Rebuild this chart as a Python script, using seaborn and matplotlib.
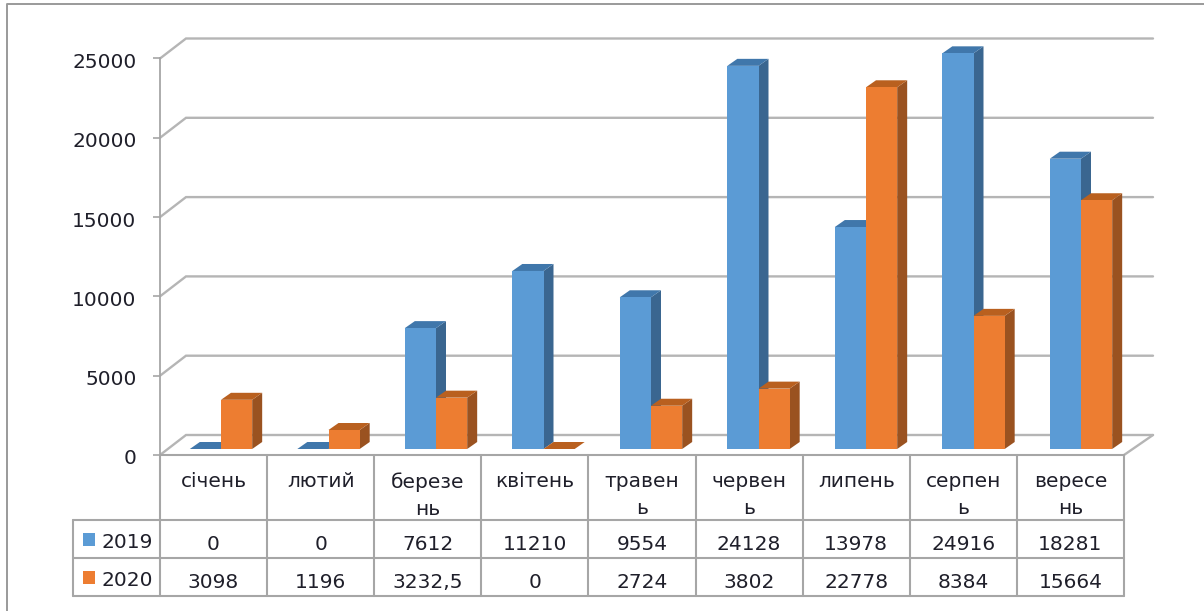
import numpy as np
import pandas as pd
import seaborn as sns
import matplotlib
matplotlib.use("Agg")
import matplotlib.pyplot as plt
from matplotlib.patches import Polygon, Rectangle
from matplotlib.transforms import ScaledTranslation

months = ["січень", "лютий", "березень", "квітень", "травень", "червень", "липень", "серпень", "вересень"]
month_labels = ["січень", "лютий", "березе\nнь", "квітень", "травен\nь", "червен\nь", "липень", "серпен\nь", "вересе\nнь"]
values_2019 = [0, 0, 7612, 11210, 9554, 24128, 13978, 24916, 18281]
values_2020 = [3098, 1196, 3232.5, 0, 2724, 3802, 22778, 8384, 15664]
series_names = ["2019", "2020"]
y_ticks = [0, 5000, 10000, 15000, 20000, 25000]
front_colors = ["#5B9BD5", "#ED7D31"]
side_colors = ["#3A6690", "#9A5220"]
top_colors = ["#4077AB", "#B9601F"]

W, H = 1204, 611
DPI = 100
FONT = "DejaVu Sans"
TEXT = "#1f1f2a"
GRID = "#b5b5b5"
TABLE = "#a6a6a6"

df = pd.DataFrame({
    "month": months * 2,
    "value": values_2019 + values_2020,
    "year": [series_names[0]] * len(months) + [series_names[1]] * len(months),
})

sns.set_theme(style="white")
plt.rcParams["font.family"] = [FONT]
fig = plt.figure(figsize=(W / DPI, H / DPI), dpi=DPI, facecolor="white")


def axes_px(x0, x1, y_top, y_bottom):
    return [x0 / W, 1 - y_bottom / H, (x1 - x0) / W, (y_bottom - y_top) / H]


# pixel-space layer: frame, back wall, table
frame = fig.add_axes([0, 0, 1, 1], zorder=1)
frame.set_xlim(0, W)
frame.set_ylim(H, 0)
frame.axis("off")

# front plane: the value axis
X0, X1 = 160, 1124
Y0, Y25 = 455, 58.5
FS = 14.5
axis_ax = fig.add_axes(axes_px(X0, X1, Y25, Y0), zorder=2, facecolor="none")
axis_ax.set_ylim(0, 25000)
axis_ax.set_xticks([])
axis_ax.set_yticks(y_ticks)
axis_ax.tick_params(axis="y", length=5, width=1.2, color=TABLE, pad=12, left=True,
                    labelsize=FS, labelcolor=TEXT)
for lab in axis_ax.get_yticklabels():
    lab.set_transform(lab.get_transform() + ScaledTranslation(0, -2 / DPI, fig.dpi_scale_trans))
for s in ("top", "right", "bottom"):
    axis_ax.spines[s].set_visible(False)
axis_ax.spines["left"].set_color(TABLE)
axis_ax.spines["left"].set_linewidth(1.3)

# bars: plane shifted into the depth of the floor
BX0 = 221 - 0.5 * 107.5
BX1 = BX0 + 9 * 107.5
BY0, BY25 = 449, 52.0
ax = fig.add_axes(axes_px(BX0, BX1, BY25, BY0), zorder=3, facecolor="none")
sns.barplot(data=df, x="month", y="value", hue="year", order=months,
            hue_order=series_names, palette=front_colors, saturation=1,
            width=0.58, gap=0, legend=False, ax=ax, linewidth=0)
ax.set_xlim(-0.5, 8.5)
ax.set_ylim(0, 25000)
ax.axis("off")

# depth faces derived from each bar
dx = 10 / 107.5
dy = 7 / ((BY0 - BY25) / 25000)
for k, container in enumerate(ax.containers):
    for bar in container:
        x, w, h = bar.get_x(), bar.get_width(), bar.get_height()
        bar.set_zorder(3 + 2 * k)
        ax.add_patch(Polygon([(x + w, 0), (x + w + dx, dy), (x + w + dx, h + dy), (x + w, h)],
                             closed=True, fc=side_colors[k], ec="none", zorder=2 + 2 * k,
                             clip_on=False))
        ax.add_patch(Polygon([(x, h), (x + dx, h + dy), (x + w + dx, h + dy), (x + w, h)],
                             closed=True, fc=top_colors[k], ec="none", zorder=2 + 2 * k,
                             clip_on=False))

# outer frame
frame.plot([7, 7, W], [H, 4, 4], color="#9a9a9a", lw=1.4, solid_capstyle="butt")

# back wall and floor
DX, DY = 26, 20
scale = (Y0 - Y25) / 25000
for t in y_ticks:
    yy = Y0 - t * scale
    frame.plot([X0, X0 + DX, X1 + 29], [yy, yy - DY, yy - DY], color=GRID, lw=1.7,
               solid_joinstyle="miter")
frame.plot([X1, X1 + 29], [Y0, Y0 - DY], color=GRID, lw=1.7)

# table
col_w = (X1 - X0) / len(months)
row_ys = [455, 520, 558, 596]
TBL_L = 73
frame.plot([X0, X1], [row_ys[0]] * 2, color=TABLE, lw=1.5)
for ry in row_ys[1:]:
    frame.plot([TBL_L, X1], [ry, ry], color=TABLE, lw=1.5)
frame.plot([TBL_L, TBL_L], [row_ys[1], row_ys[3]], color=TABLE, lw=1.5)
for i in range(len(months) + 1):
    xx = X0 + i * col_w
    frame.plot([xx, xx], [row_ys[0], row_ys[3]], color=TABLE, lw=1.5)

for i, lab in enumerate(month_labels):
    frame.text(X0 + (i + 0.5) * col_w, 472, lab, ha="center", va="top", fontsize=FS,
               color=TEXT, linespacing=1.55)


def fmt(v):
    return str(v).replace(".", ",")


for r, (name, vals) in enumerate(zip(series_names, [values_2019, values_2020])):
    cy = (row_ys[r + 1] + row_ys[r + 2]) / 2 + 1
    frame.add_patch(Rectangle((83, cy - 7.5), 12, 13, fc=front_colors[r], ec="none"))
    frame.text(153, cy + 2, name, ha="right", va="center", fontsize=FS, color=TEXT)
    for i, v in enumerate(vals):
        frame.text(X0 + (i + 0.5) * col_w, cy + 5, fmt(v), ha="center", va="center",
                   fontsize=FS, color=TEXT)

fig.savefig("out.png", dpi=DPI, facecolor="white")
